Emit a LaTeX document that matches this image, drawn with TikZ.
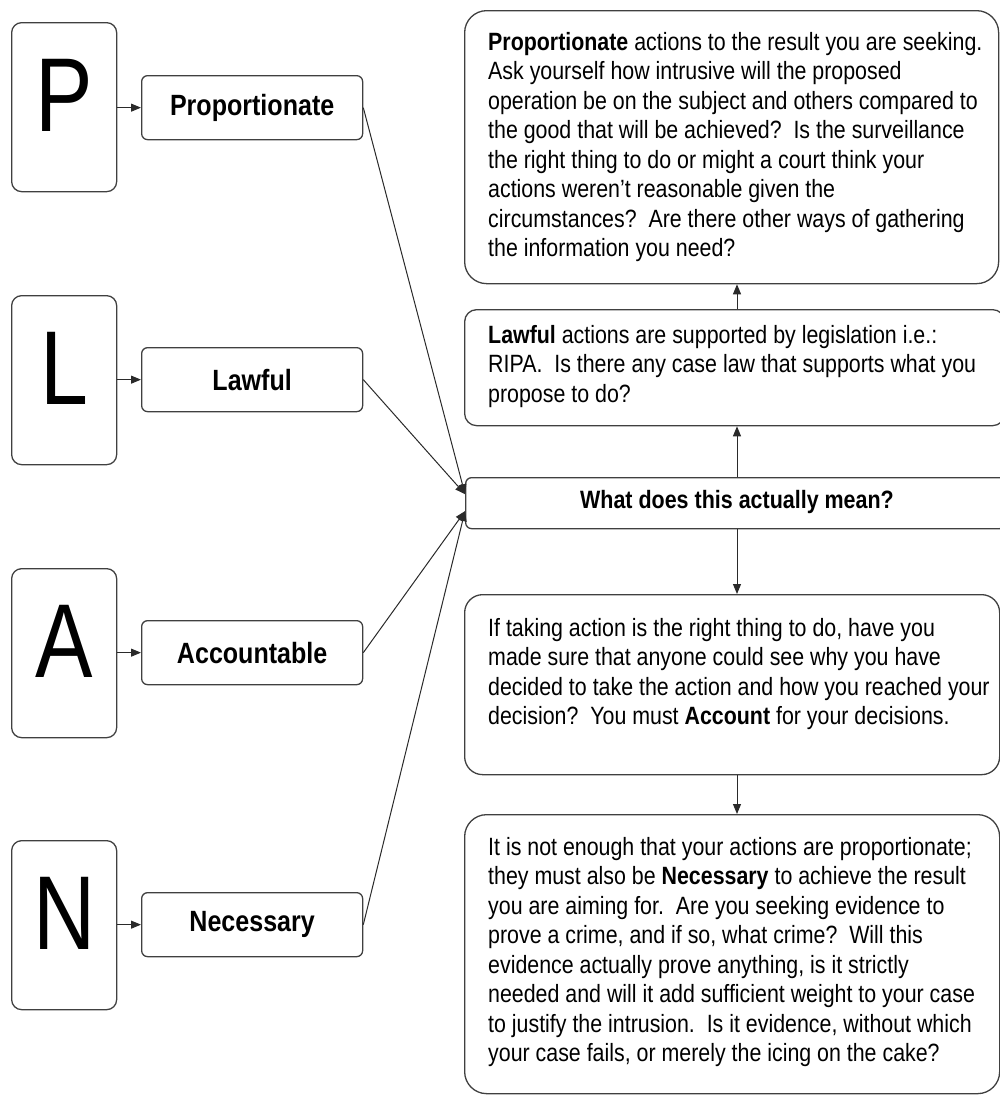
\documentclass[tikz,border=0pt]{standalone}
\usepackage{fontspec}
\setmainfont{Liberation Sans}[FakeStretch=0.855]
\newfontfamily\letterfont{Liberation Sans}[FakeStretch=0.82]
\usetikzlibrary{arrows.meta}
\definecolor{boxc}{HTML}{404040}
\definecolor{linec}{HTML}{2A2A2A}
\begin{document}
\begin{tikzpicture}[x=1pt,y=-1pt,
  letterbox/.style={draw=boxc, line width=1.3pt, rounded corners=10pt, minimum width=105pt, minimum height=169pt, inner sep=0pt, anchor=north west},
  letter/.style={font=\letterfont\fontsize{105}{110}\selectfont, inner sep=0pt},
  wordbox/.style={draw=boxc, line width=1.3pt, rounded corners=6pt, minimum width=221pt, minimum height=64pt, inner sep=0pt, anchor=north west, font=\fontsize{29.3}{32}\selectfont\bfseries},
  bigbox/.style={draw=boxc, line width=1.3pt, inner sep=0pt, anchor=north west},
  body/.style={font=\fontsize{25}{29.5}\selectfont, align=left, inner sep=0pt, anchor=north west},
  conn/.style={draw=linec, line width=1pt, -{Triangle[length=10pt,width=8pt]}}
]
\useasboundingbox (0,0) rectangle (1000,1095);

% letter boxes
\node[letterbox] (bP) at (11,22) {};
\node[letterbox] (bL) at (11,295) {};
\node[letterbox] (bA) at (11,568) {};
\node[letterbox] (bN) at (11,840) {};
\node[letter] (lP) at ([yshift=12pt]bP.center) {P};
\node[letter] (lL) at ([yshift=12pt]bL.center) {L};
\node[letter] (lA) at ([yshift=12pt]bA.center) {A};
\node[letter] (lN) at ([yshift=12pt]bN.center) {N};

% word boxes
\node[wordbox] (wP) at (141,75) {Proportionate};
\node[wordbox] (wL) at (141,347) {Lawful};
\node[wordbox] (wA) at (141,620) {Accountable};
\node[wordbox] (wN) at (141,892) {Necessary};

\draw[conn] (bP.east |- wP.west) -- (wP.west);
\draw[conn] (bL.east |- wL.west) -- (wL.west);
\draw[conn] (bA.east |- wA.west) -- (wA.west);
\draw[conn] (bN.east |- wN.west) -- (wN.west);

% right column
\node[bigbox, rounded corners=22pt, minimum width=534pt, minimum height=273pt] (rP) at (464,10) {};
\node[bigbox, rounded corners=12pt, minimum width=540pt, minimum height=116pt] (rL) at (464,309) {};
\node[bigbox, rounded corners=6pt, minimum width=540pt, minimum height=51pt] (what) at (465,477) {};
\node[bigbox, rounded corners=18pt, minimum width=535pt, minimum height=180pt] (rA) at (464,594) {};
\node[bigbox, rounded corners=22pt, minimum width=535pt, minimum height=279pt] (rN) at (464,814) {};

\node[font=\fontsize{25.1}{30}\selectfont\bfseries, inner sep=0pt] (whatt) at (737,502.5) {What does this actually mean?};

\node[body] (tP) at (488,32) {\textbf{Proportionate} actions to the result you are seeking.\\
Ask yourself how intrusive will the proposed\\
operation be on the subject and others compared to\\
the good that will be achieved?\ \ Is the surveillance\\
the right thing to do or might a court think your\\
actions weren’t reasonable given the\\
circumstances?\ \ Are there other ways of gathering\\
the information you need?};

\node[body] (tL) at (488,325) {\textbf{Lawful} actions are supported by legislation i.e.:\\
RIPA.\ \ Is there any case law that supports what you\\
propose to do?};

\node[body] (tA) at (488,618) {If taking action is the right thing to do, have you\\
made sure that anyone could see why you have\\
decided to take the action and how you reached your\\
decision?\ \ You must \textbf{Account} for your decisions.};

\node[body] (tN) at (488,837) {It is not enough that your actions are proportionate;\\
they must also be \textbf{Necessary} to achieve the result\\
you are aiming for.\ \ Are you seeking evidence to\\
prove a crime, and if so, what crime?\ \ Will this\\
evidence actually prove anything, is it strictly\\
needed and will it add sufficient weight to your case\\
to justify the intrusion.\ \ Is it evidence, without which\\
your case fails, or merely the icing on the cake?};

% connectors to the question box
\draw[conn] (wP.east) -- ([yshift=9pt]what.west);
\draw[conn] (wL.east) -- ([yshift=9pt]what.west);
\draw[conn] (wA.east) -- ([yshift=-8pt]what.west);
\draw[conn] (wN.east) -- ([yshift=-8pt]what.west);

% vertical connectors
\coordinate (ax) at (737,0);
\draw[conn] (what.north -| ax) -- (rL.south -| ax);
\draw[conn] (rL.north -| ax) -- (rP.south -| ax);
\draw[conn] (what.south -| ax) -- (rA.north -| ax);
\draw[conn] (rA.south -| ax) -- (rN.north -| ax);
\end{tikzpicture}
\end{document}
